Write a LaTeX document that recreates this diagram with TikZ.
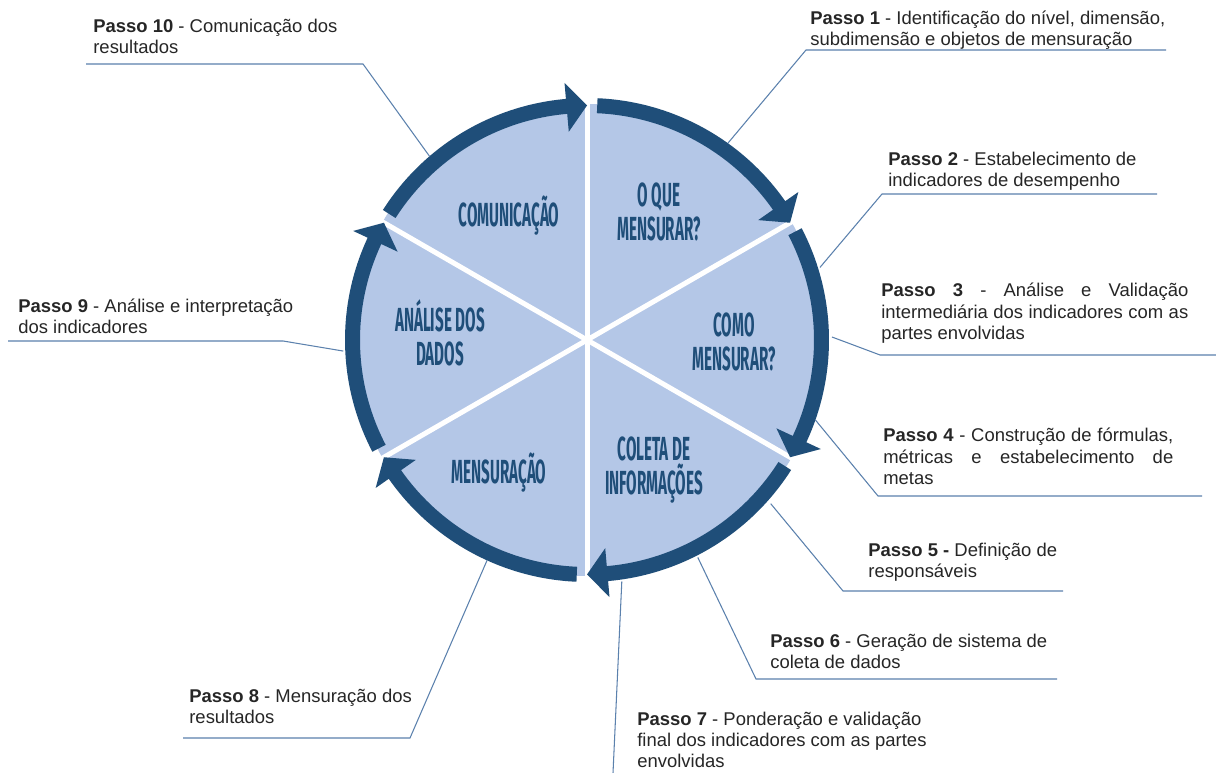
\documentclass[tikz,border=0pt]{standalone}
\usepackage{fontspec}
\setmainfont{Liberation Sans}
\newfontfamily\stagefont[FakeStretch=0.455]{Fira Sans}
\usepackage{xcolor}
\usepackage{tikz}

\definecolor{ringblue}{HTML}{1F4E79}
\definecolor{sectorfill}{HTML}{B4C7E7}
\definecolor{leaderblue}{HTML}{5B81AD}
\definecolor{steptext}{HTML}{262626}

% one curved arrow of the ring: start angle, tip angle, angle of the head's back
\newcommand{\cyclearrow}[3]{%
  \fill[ringblue] (#1:242) arc[start angle=#1, end angle=#3, radius=242]
    -- (#3:258) -- (#2:234.5) -- (#3:209) -- (#3:227)
    arc[start angle=#3, end angle=#1, radius=227] -- cycle;}

\begin{document}
\begin{tikzpicture}[
      x=0.02cm, y=0.02cm,
      stage/.style={font=\stagefont\bfseries\fontsize{19}{19.5}\selectfont,
                    text=ringblue, align=center, anchor=base, inner sep=0pt},
      passo/.style={font=\fontsize{10.5}{12}\selectfont, text=steptext,
                    align=left, anchor=base west, inner sep=0pt},
      leader/.style={draw=leaderblue, line width=0.6pt}]
    \fill[white] (0,0) rectangle (1216,773);
    \useasboundingbox (0,0) rectangle (1216,773);
    \coordinate (hub) at (587,433);

    % wheel: sectors, white spokes, ring of arrows
    \begin{scope}[shift={(hub)}]
      \fill[sectorfill] (0,0) circle[radius=236];
      \foreach \a in {90,30,-30,-90,-150,150}
        \draw[white, line width=0.1cm] (0,0) -- (\a:250);
      \foreach \a in {150,90,30,-30,-90,-150} {
        \pgfmathsetmacro\s{\a-2.5}
        \pgfmathsetmacro\e{\a-60}
        \pgfmathsetmacro\b{\a-55}
        \cyclearrow{\s}{\e}{\b}
      }
      % where the leaders touch the ring
      \coordinate (t1) at (54.4:242);
      \coordinate (t2) at (17.3:244);
      \coordinate (t3) at (0.7:245);
      \coordinate (t4) at (-19.3:242);
      \coordinate (t5) at (-41.7:246);
      \coordinate (t6) at (-63:244);
      \coordinate (t7) at (-81.8:244);
      \coordinate (t8) at (-114.4:242);
      \coordinate (t9) at (182.6:244);
      \coordinate (t10) at (130.6:242);
    \end{scope}

    % stage names (anchored on the last line's baseline)
    \node[stage] (comunic) at (509,546) {COMUNICAÇÃO};
    \node[stage] (oque) at (659,532) {O QUE\\MENSURAR?};
    \node[stage] (como) at (734,402) {COMO\\MENSURAR?};
    \node[stage] (coleta) at (654,278) {COLETA DE\\INFORMAÇÕES};
    \node[stage] (mensur) at (499,289) {MENSURAÇÃO};
    \node[stage] (analise) at (440,407) {ANÁLISE DOS\\DADOS};

    \node[passo] (p1) at (810,727) {\textbf{Passo 1} - Identificação do nível, dimensão,\\subdimensão e objetos de mensuração};
    \node[passo] (p2) at (888,586) {\textbf{Passo 2} - Estabelecimento de\\indicadores de desempenho};
    \node[passo, text width=6.14cm, align=justify] (p3) at (881,476)
      {\textbf{Passo 3} - Análise e Validação\linebreak intermediária dos indicadores com as\linebreak partes envolvidas};
    \node[passo, text width=5.8cm, align=justify] (p4) at (883,331)
      {\textbf{Passo 4} - Construção de fórmulas,\linebreak métricas e estabelecimento de\linebreak metas};
    \node[passo] (p5) at (868,195) {\textbf{Passo 5 -} Definição de\\responsáveis};
    \node[passo] (p6) at (770,104) {\textbf{Passo 6} - Geração de sistema de\\coleta de dados};
    \node[passo] (p7) at (637,5) {\textbf{Passo 7} - Ponderação e validação\\final dos indicadores com as partes\\envolvidas};
    \node[passo] (p8) at (189,49) {\textbf{Passo 8} - Mensuração dos\\resultados};
    \node[passo] (p9) at (18,439) {\textbf{Passo 9} - Análise e interpretação\\dos indicadores};
    \node[passo] (p10) at (93,719) {\textbf{Passo 10} - Comunicação dos\\resultados};

    % leader lines with their underlines
    \coordinate (k1) at (806,723);  \coordinate (e1) at (1166,723);
    \coordinate (k2) at (882,579);  \coordinate (e2) at (1157,579);
    \coordinate (k3) at (880,418);  \coordinate (e3) at (1216,418);
    \coordinate (k4) at (878,277);  \coordinate (e4) at (1202,277);
    \coordinate (k5) at (843,182);  \coordinate (e5) at (1063,182);
    \coordinate (k6) at (756,94);   \coordinate (e6) at (1057,94);
    \coordinate (k7) at (613,0);
    \coordinate (k8) at (410,35);   \coordinate (e8) at (183,35);
    \coordinate (k9) at (283,432);  \coordinate (e9) at (8,432);
    \coordinate (k10) at (363,709); \coordinate (e10) at (86,709);
    \foreach \i in {1,2,3,4,5,6,8,9,10}
      \draw[leader] (t\i) -- (k\i) -- (e\i);
    \draw[leader] (t7) -- (k7);
\end{tikzpicture}
\end{document}
